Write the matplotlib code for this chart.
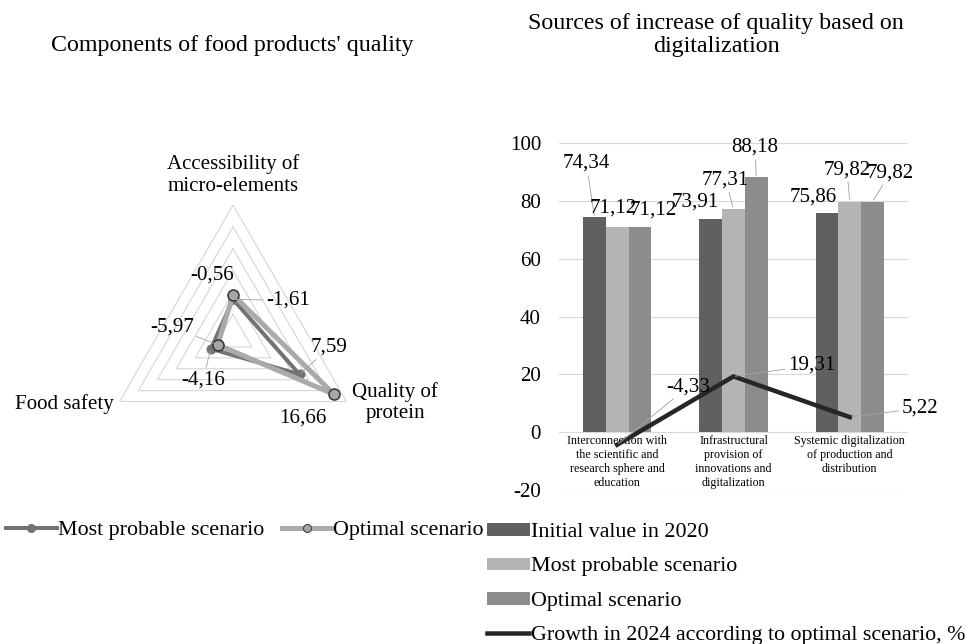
import numpy as np
import matplotlib.pyplot as plt
from matplotlib.lines import Line2D
from matplotlib.patches import Patch

plt.rcParams['font.family'] = ['Liberation Serif', 'DejaVu Serif']
plt.rcParams['axes.unicode_minus'] = False

# radar chart data
radar_axes = ['Accessibility of\nmicro-elements', 'Quality of\nprotein', 'Food safety']
radar_most_probable = [-1.61, 7.59, -4.16]
radar_optimal = [-0.56, 16.66, -5.97]
radar_levels = [-5, 0, 5, 10, 15, 20]

# bar chart data
categories = ['Interconnection with\nthe scientific and\nresearch sphere and\neducation',
              'Infrastructural\nprovision of\ninnovations and\ndigitalization',
              'Systemic digitalization\nof production and\ndistribution']
initial_2020 = [74.34, 73.91, 75.86]
most_probable = [71.12, 77.31, 79.82]
optimal = [71.12, 88.18, 79.82]
growth_2024 = [-4.33, 19.31, 5.22]

C_DARK = '#606060'
C_LIGHT = '#b4b4b4'
C_MID = '#8c8c8c'
C_LINE = '#262626'
C_GRID = '#d9d9d9'
C_LEAD = '#a6a6a6'
FS = 21


def fmt(v):
    return f"{v:.2f}".replace('.', ',')


def label(ax, xy, text, offset, leader=False, **kw):
    arrow = None
    if leader:
        arrow = dict(arrowstyle='-', color=C_LEAD, lw=0.9, shrinkA=1, shrinkB=2)
    ax.annotate(text, xy=xy, xytext=offset, textcoords='offset points',
                ha='center', va='center', fontsize=FS, arrowprops=arrow,
                annotation_clip=False, zorder=6, **kw)


fig = plt.figure(figsize=(966 / 72, 644 / 72), dpi=72)

# ---- radar ----
W, H = 966, 644
rx = fig.add_axes([(233 - 131) / W, (644 - 336 - 131) / H, 262 / W, 262 / H],
                  projection='polar')
rx.set_theta_offset(np.pi / 2)
rx.set_theta_direction(-1)
rx.set_ylim(-10, 20)
rx.grid(False)
rx.spines['polar'].set_visible(False)
rx.set_xticks([])
rx.set_yticks([])
rx.patch.set_alpha(0)

theta = np.linspace(0, 2 * np.pi, len(radar_axes), endpoint=False)
theta_c = np.append(theta, theta[0])
for lev in radar_levels:
    rx.plot(theta_c, [lev] * len(theta_c), color=C_GRID, lw=1.2, zorder=1)

mp_c = radar_most_probable + radar_most_probable[:1]
op_c = radar_optimal + radar_optimal[:1]
rx.plot(theta_c, mp_c, color='#737373', lw=4, marker='o', ms=9,
        mfc='#737373', mec='#737373', zorder=3)
rx.plot(theta_c, op_c, color='#aaaaaa', lw=5, zorder=4)
rx.plot(theta, radar_optimal, ls='none', marker='o', ms=11, mfc='#a6a6a6',
        mec='#3a3a3a', mew=1.6, zorder=5)

cat_offsets = [((0, 30), 'center'), ((6, -1), 'left'), ((-6, -3), 'right')]
for t, name, (off, ha) in zip(theta, radar_axes, cat_offsets):
    rx.annotate(name, xy=(t, 20), xytext=off, textcoords='offset points',
                ha=ha, va='center', fontsize=FS, annotation_clip=False,
                multialignment='center')

mp_off = [((55, -1), True), ((30, 27), True), ((-8, -31), True)]
op_off = [((-21, 20), False), ((-31, -24), False), ((-46, 18), True)]
for t, v, (off, lead) in zip(theta, radar_most_probable, mp_off):
    label(rx, (t, v), fmt(v), off, lead)
for t, v, (off, lead) in zip(theta, radar_optimal, op_off):
    label(rx, (t, v), fmt(v), off, lead)

fig.text(232 / W, 1 - 45 / H, "Components of food products' quality",
         ha='center', va='center', fontsize=24)

# ---- bars ----
ax = fig.add_axes([559 / W, (644 - 490) / H, 349 / W, (490 - 143.3) / H])
x = np.arange(len(categories))
bw = 0.195
series = [(initial_2020, C_DARK, -bw), (most_probable, C_LIGHT, 0), (optimal, C_MID, bw)]
for vals, col, dx in series:
    ax.bar(x + dx, vals, bw, color=col, zorder=2)
ax.plot(x, growth_2024, color=C_LINE, lw=4.5, zorder=4)

ax.set_xlim(-0.5, 2.5)
ax.set_ylim(-20, 100)
ax.set_yticks(np.arange(-20, 101, 20))
ax.tick_params(axis='y', length=0, labelsize=FS, pad=18)
ax.set_xticks([])
for s in ax.spines.values():
    s.set_visible(False)
ax.grid(axis='y', color=C_GRID, lw=1.2, zorder=0)
ax.set_axisbelow(True)

for xi, name in zip(x, categories):
    ax.annotate(name, xy=(xi, 0), xytext=(0, -3), textcoords='offset points',
                ha='center', va='top', fontsize=12, linespacing=1.2,
                annotation_clip=False)

bar_off = [
    [((-8, 54), True), ((-16, 17), False), ((-14, 16), False)],
    [((-4, 19), False), ((-8, 29), True), ((-3, 32), True)],
    [((13, 17), False), ((-1, 30), True), ((18, 29), True)],
]
for (vals, col, dx), offs in zip(series, bar_off):
    for xi, v, (off, lead) in zip(x, vals, offs):
        label(ax, (xi + dx, v), fmt(v), off, lead)

line_off = [(71, 58), (78, 11), (70, 9)]
for xi, v, off in zip(x, growth_2024, line_off):
    label(ax, (xi, v), fmt(v), off, True)

fig.text(716 / W, 1 - 35 / H, 'Sources of increase of quality based on\ndigitalization',
         ha='center', va='center', fontsize=24, linespacing=1.1)

# ---- legends ----
left_handles = [
    Line2D([], [], color='#737373', lw=4, marker='o', ms=8, mfc='#737373', mec='#737373'),
    Line2D([], [], color='#aaaaaa', lw=5, marker='o', ms=8, mfc='#a6a6a6', mec='#3a3a3a'),
]
fig.legend(left_handles, ['Most probable scenario', 'Optimal scenario'],
           loc='center left', bbox_to_anchor=(6 / W, 1 - 530 / H), ncol=2,
           frameon=False, fontsize=22, handlelength=2.3, handletextpad=0.05,
           columnspacing=0.8, borderaxespad=0, borderpad=0)

right_handles = [
    Patch(color=C_DARK), Patch(color=C_LIGHT), Patch(color=C_MID),
    Line2D([], [], color=C_LINE, lw=4.5),
]
fig.legend(right_handles, ['Initial value in 2020', 'Most probable scenario',
                           'Optimal scenario',
                           'Growth in 2024 according to optimal scenario, %'],
           loc='upper left', bbox_to_anchor=(487 / W, 1 - 523 / H),
           frameon=False, fontsize=22, handlelength=1.9, handleheight=0.45,
           handletextpad=0.1, labelspacing=0.7, borderaxespad=0, borderpad=0)

fig.savefig('out.png', dpi=72)
